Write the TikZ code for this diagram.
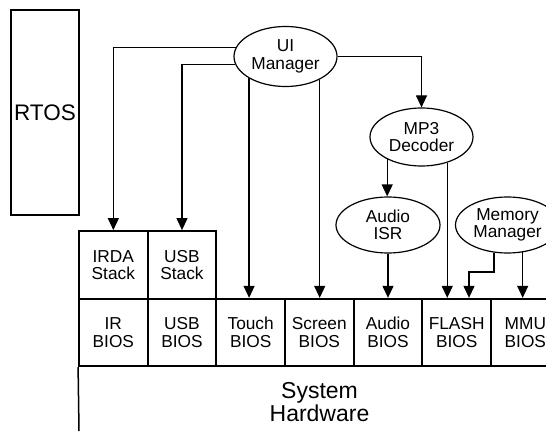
\documentclass[tikz,border=0pt]{standalone}
\usepackage{fontspec}
\setmainfont{Liberation Sans}
\usetikzlibrary{arrows.meta,shapes.geometric}
\begin{document}
\begin{tikzpicture}[x=1pt,y=-1pt,
  lbl/.style={font=\fontsize{17.3}{17.5}\selectfont, align=center},
  cell/.style={draw, line width=1.8pt, lbl, minimum width=68.67pt, minimum height=67.5pt, inner sep=0pt},
  proc/.style={draw, ellipse, line width=1.2pt, fill=white, lbl, minimum width=103pt, minimum height=58pt, inner sep=0pt},
  conn/.style={line width=1.2pt, -{Triangle[length=12pt,width=11pt]}},
  plain/.style={line width=1.5pt}
]
\useasboundingbox (0,0) rectangle (546,433);
\clip (0,0) rectangle (546,433);

% RTOS
\node[draw, line width=1.2pt, minimum width=68pt, minimum height=205pt, inner sep=0pt,
      font=\fontsize{22.5}{22.5}\selectfont] (rtos) at (45,112.5) {RTOS};

% stack row
\node[cell, minimum height=68pt] (irda) at (113.33,265) {IRDA\\Stack};
\node[cell, minimum height=68pt] (usbs) at (182,265) {USB\\Stack};

% BIOS row
\node[cell] (ir)     at (113.33,332.5) {IR\\BIOS};
\node[cell] (usbb)   at (182,332.5)    {USB\\BIOS};
\node[cell] (touch)  at (250.67,332.5) {Touch\\BIOS};
\node[cell] (screen) at (319.33,332.5) {Screen\\BIOS};
\node[cell] (audiob) at (388,332.5)    {Audio\\BIOS};
\node[cell] (flash)  at (456.67,332.5) {FLASH\\BIOS};
\node[cell] (mmu)    at (525.33,332.5) {MMU\\BIOS};

% system hardware
\node[font=\fontsize{23}{18}\selectfont, align=center] (hw) at (319.5,402) {System\\Hardware};
\coordinate (hwend) at (79,431);
\draw[plain] (ir.south west) -- (hwend);

% processes
\node[proc, minimum height=60pt] (ui) at (285.5,56.5) {UI\\Manager};
\node[proc] (mp3) at (421.5,137) {MP3\\Decoder};
\node[proc, minimum width=104pt, minimum height=56pt] (isr) at (388,225) {Audio\\ISR};
\node[proc, minimum width=104pt, minimum height=56pt] (mem) at (507.5,225) {Memory\\Manager};

% connectors
\draw[conn] (ui.170) -| (irda.north);
\draw[conn] (ui.189) -| (usbs.north);
\draw[conn] (ui.211) -- (ui.211 |- touch.north);
\draw[conn] (ui.-34) -- (ui.-34 |- screen.north);
\draw[conn] (ui.east) -| (mp3.north);
\draw[conn] (mp3.213) -- (mp3.213 |- isr.north);
\draw[conn] (mp3.-45) -- (mp3.-45 |- flash.north);
\draw[conn] (isr.south) -- (audiob.north);
\coordinate (bend) at (469,272);
\draw[conn] (mem.244) |- (bend) -- (bend |- flash.north);
\draw[conn] (mem.-61) -- (mem.-61 |- mmu.north);
\end{tikzpicture}
\end{document}
